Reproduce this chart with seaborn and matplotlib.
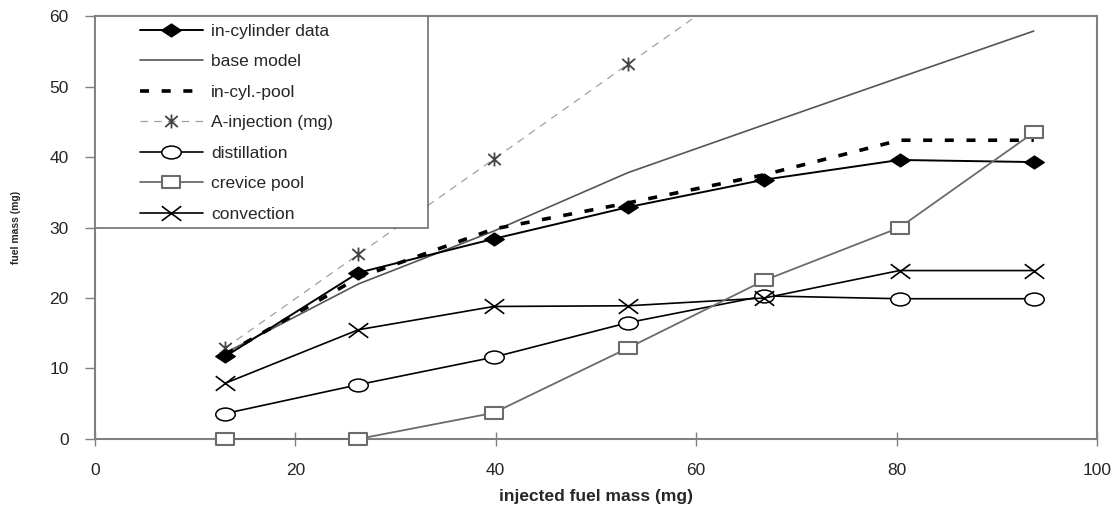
import numpy as np
import matplotlib
matplotlib.use("Agg")
import matplotlib.pyplot as plt
from matplotlib.path import Path
from matplotlib.markers import MarkerStyle
from matplotlib.patches import Rectangle
import seaborn as sns

# injected fuel mass (mg)
injected = [13.0, 26.3, 39.8, 53.2, 66.8, 80.3, 93.7]

in_cylinder = [11.7, 23.6, 28.4, 32.9, 36.8, 39.6, 39.3]
base_model = [12.2, 22.0, 29.5, 37.8, 44.6, 51.3, 57.9]
in_cyl_pool = [12.0, 22.9, 29.8, 33.5, 37.5, 42.4, 42.4]
a_injection = [12.9, 26.2, 39.7, 53.2, 66.8, 80.3, 93.7]
distillation = [3.6, 7.7, 11.6, 16.5, 20.3, 19.9, 19.9]
crevice_pool = [0.0, 0.0, 3.7, 12.9, 22.5, 30.0, 43.5]
convection = [7.9, 15.5, 18.8, 18.9, 20.0, 23.9, 23.9]

labels = ["in-cylinder data", "base model", "in-cyl.-pool", "A-injection (mg)",
          "distillation", "crevice pool", "convection"]


def squash(path, sy=0.66):
    # markers in the original are stretched sideways
    v = path.vertices * np.array([1.0, sy])
    return MarkerStyle(Path(v, path.codes))


diamond = squash(Path([(0, -1), (1, 0), (0, 1), (-1, 0), (0, -1)],
                      [1, 2, 2, 2, 79]))
ellipse = squash(Path.unit_circle())
rect = squash(Path([(-1, -1), (1, -1), (1, 1), (-1, 1), (-1, -1)],
                   [1, 2, 2, 2, 79]))
cross = squash(Path([(-1, -1), (1, 1), (-1, 1), (1, -1)], [1, 2, 1, 2]), 0.75)
aster = MarkerStyle(Path([(0, -1), (0, 1), (-0.9, -0.8), (0.9, 0.8),
                          (-0.9, 0.8), (0.9, -0.8)], [1, 2, 1, 2, 1, 2]))

sns.set_style("white")
plt.rcParams["font.family"] = ["Liberation Sans", "DejaVu Sans"]

fig = plt.figure(figsize=(11.17, 5.08), dpi=100)
ax = fig.add_axes([0.085, 0.136, 0.897, 0.832])

grey = "#6b6b6b"
sns.lineplot(x=injected, y=in_cylinder, ax=ax, color="black", lw=1.4,
             marker=diamond, markersize=14, markerfacecolor="black",
             markeredgecolor="black", markeredgewidth=1, label=labels[0], zorder=6)
sns.lineplot(x=injected, y=base_model, ax=ax, color="#555555", lw=1.2,
             label=labels[1], zorder=3)
sns.lineplot(x=injected, y=in_cyl_pool, ax=ax, color="black", lw=2.6,
             linestyle=(0, (2.5, 3.5)), label=labels[2], zorder=5)
sns.lineplot(x=injected, y=a_injection, ax=ax, color="#a0a0a0", lw=0.9,
             linestyle=(0, (6, 5)), marker=aster, markersize=10,
             markerfacecolor="none", markeredgecolor="#444444",
             markeredgewidth=1.3, label=labels[3], zorder=2)
sns.lineplot(x=injected, y=distillation, ax=ax, color="black", lw=1.2,
             marker=ellipse, markersize=14, markerfacecolor="white",
             markeredgecolor="black", markeredgewidth=1.1, label=labels[4], zorder=4)
sns.lineplot(x=injected, y=crevice_pool, ax=ax, color=grey, lw=1.3,
             marker=rect, markersize=13.5, markerfacecolor="white",
             markeredgecolor=grey, markeredgewidth=1.5, label=labels[5], zorder=7,
             clip_on=False)
sns.lineplot(x=injected, y=convection, ax=ax, color="black", lw=1.2,
             marker=cross, markersize=14, markerfacecolor="none",
             markeredgecolor="black", markeredgewidth=1.2, label=labels[6], zorder=4)

ax.set_xlim(0, 100)
ax.set_ylim(0, 60)
ax.set_xticks(range(0, 101, 20))
ax.set_yticks(range(0, 61, 10))
ax.tick_params(axis="both", color="#808080", width=1, labelsize=12.5,
               bottom=True, left=True)
ax.tick_params(axis="x", direction="inout", length=10, pad=12)
ax.tick_params(axis="y", direction="out", length=7, pad=12)
for s in ax.spines.values():
    s.set_color("#808080")
    s.set_linewidth(1.5)

ax.set_xlabel("injected fuel mass (mg)", fontsize=12.5, fontweight="bold", labelpad=8)
ax.set_ylabel("fuel mass (mg)", fontsize=7.5, fontweight="bold", labelpad=20)

# opaque legend box in the upper-left corner
ax.add_patch(Rectangle((0, 0.5), 0.332, 0.5, transform=ax.transAxes,
                       facecolor="white", edgecolor="#707070", lw=1.2, zorder=8))
leg = ax.legend(loc="upper left", bbox_to_anchor=(0.045, 0.982), frameon=False,
                fontsize=12.5, handlelength=3.6, handletextpad=0.5, labelspacing=0.88,
                borderpad=0, borderaxespad=0)
leg.set_zorder(9)

fig.savefig("out.png", dpi=100, facecolor="white")
